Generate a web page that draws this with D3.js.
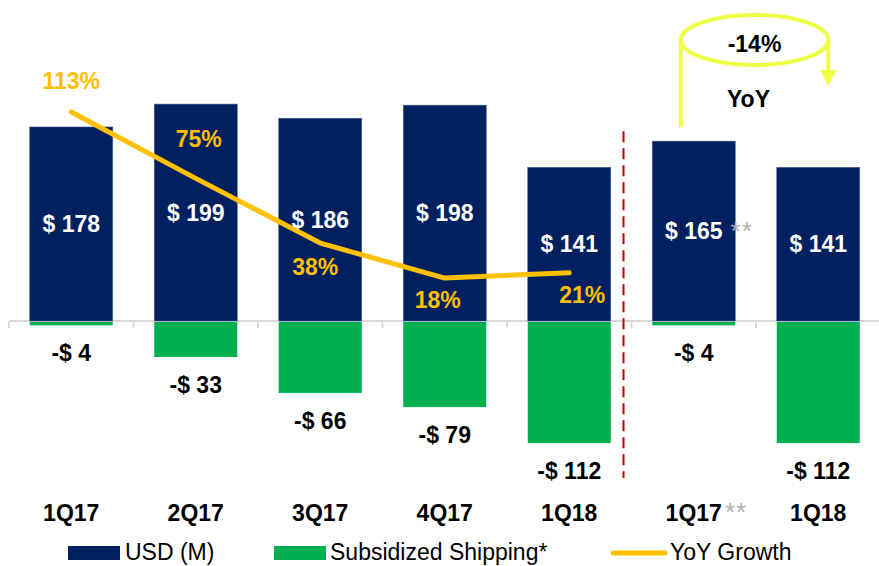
<!DOCTYPE html>
<html>
<head>
<meta charset="utf-8">
<script src="https://cdn.jsdelivr.net/npm/d3@7/dist/d3.min.js"></script>
<style>
  html, body { margin: 0; padding: 0; background: #fff; }
  svg { display: block; }
  text { font-family: "Liberation Sans", Arial, Helvetica, sans-serif; }
</style>
</head>
<body>
<svg id="chart" width="879" height="566"></svg>
<script>
// ---- data ----
const categories = ["1Q17", "2Q17", "3Q17", "4Q17", "1Q18", "1Q17", "1Q18"];
const categoryNotes = ["", "", "", "", "", "**", ""];
const usd = [178, 199, 186, 198, 141, 165, 141];
const usdNotes = ["", "", "", "", "", "**", ""];
const shipping = [-4, -33, -66, -79, -112, -4, -112];
const yoyGrowth = [113, 75, 38, 18, 21];            // first five quarters
const yoyCompare = "-14%";
const yoyCompareLabel = "YoY";
const legendLabels = ["USD (M)", "Subsidized Shipping*", "YoY Growth"];

// ---- styles ----
const NAVY = "#002060", GREEN = "#00B050", GOLD = "#FFC000", LIME = "#EEFF44", RED = "#C00000", GREY = "#B0B0B0";
const FONT = 23;

const svg = d3.select("#chart");

// ---- scales ----
const idx = d3.range(categories.length);
const x = d3.scaleBand().domain(idx).range([9, 880.5]).paddingInner(1 / 3).paddingOuter(1 / 6);
const bw = x.bandwidth();
const step = x.step();
const cx = i => x(i) + bw / 2;
const y = d3.scaleLinear().domain([-200, 250]).range([321 + 200 * 1.09, 321 - 250 * 1.09]);
const yp = d3.scaleLinear().domain([0, 100]).range([309.5, 309.5 - 174.8]);

// ---- axis ----
const axis = svg.append("g");
axis.append("line")
  .attr("x1", x(0) - step / 6).attr("x2", 879)
  .attr("y1", y(0)).attr("y2", y(0))
  .attr("stroke", "#D9D9D9").attr("stroke-width", 2);
axis.selectAll("line.tick").data(d3.range(categories.length + 1)).join("line")
  .attr("class", "tick")
  .attr("x1", i => x(0) - step / 6 + i * step).attr("x2", i => x(0) - step / 6 + i * step)
  .attr("y1", y(0)).attr("y2", y(0) + 7)
  .attr("stroke", "#D9D9D9").attr("stroke-width", 2);

// ---- bars ----
svg.append("g").selectAll("rect").data(usd).join("rect")
  .attr("x", (d, i) => x(i)).attr("width", bw)
  .attr("y", d => y(d)).attr("height", d => y(0) - y(d))
  .attr("fill", NAVY).attr("stroke", "#4a5f8c").attr("stroke-width", 0.6);

svg.append("g").selectAll("rect").data(shipping).join("rect")
  .attr("x", (d, i) => x(i)).attr("width", bw)
  .attr("y", y(0) + 1).attr("height", d => y(d) - y(0) - 1)
  .attr("fill", GREEN);

// ---- divider ----
svg.append("line")
  .attr("x1", x(4) + bw + step / 6 - 8).attr("x2", x(4) + bw + step / 6 - 8)
  .attr("y1", y(174)).attr("y2", y(-144))
  .attr("stroke", RED).attr("stroke-width", 2).attr("stroke-dasharray", "11,6");

// ---- YoY line ----
const line = d3.line().x((d, i) => cx(i)).y(d => yp(d));
svg.append("path").datum(yoyGrowth)
  .attr("d", line).attr("fill", "none")
  .attr("stroke", GOLD).attr("stroke-width", 5).attr("stroke-linecap", "round").attr("stroke-linejoin", "round");

// ---- bar value labels ----
const usdLabels = svg.append("g").selectAll("text").data(usd).join("text")
  .attr("x", (d, i) => cx(i)).attr("y", d => (y(d) + y(0)) / 2 + 8)
  .attr("text-anchor", "middle").attr("font-weight", "bold").attr("font-size", FONT)
  .attr("fill", "#fff").text(d => "$ " + d);
usdLabels.each(function (d, i) {
  if (usdNotes[i]) {
    const w = this.getComputedTextLength();
    svg.append("text").attr("x", cx(i) + w / 2 + 8).attr("y", (y(d) + y(0)) / 2 + 9)
      .attr("font-size", 26).attr("letter-spacing", 1).attr("fill", GREY).text(usdNotes[i]);
  }
});

svg.append("g").selectAll("text").data(shipping).join("text")
  .attr("x", (d, i) => cx(i)).attr("y", d => y(d) + 36)
  .attr("text-anchor", "middle").attr("font-weight", "bold").attr("font-size", FONT)
  .attr("fill", "#000").text(d => "-$ " + Math.abs(d));

// ---- YoY labels ----
const yoyPlace = [[0, -23], [3, -31], [-5, 32], [-7, 30], [13, 30]];
svg.append("g").selectAll("text").data(yoyGrowth).join("text")
  .attr("x", (d, i) => cx(i) + yoyPlace[i][0]).attr("y", d => yp(d)).attr("dy", (d, i) => yoyPlace[i][1])
  .attr("text-anchor", "middle").attr("font-weight", "bold").attr("font-size", FONT)
  .attr("fill", GOLD).text(d => d + "%");

// ---- category labels ----
const cats = svg.append("g").selectAll("text").data(categories).join("text")
  .attr("x", (d, i) => cx(i)).attr("y", 521)
  .attr("text-anchor", "middle").attr("font-weight", "bold").attr("font-size", FONT)
  .attr("fill", "#000").text(d => d);
cats.each(function (d, i) {
  if (categoryNotes[i]) {
    const w = this.getComputedTextLength();
    svg.append("text").attr("x", cx(i) + w / 2 + 3).attr("y", 521)
      .attr("font-size", 26).attr("letter-spacing", 1).attr("fill", GREY).text(categoryNotes[i]);
  }
});

// ---- YoY comparison annotation ----
const ann = svg.append("g");
const aL = cx(5) - 13, aR = cx(6) + 10, aY = 40;
ann.append("ellipse").attr("cx", (aL + aR) / 2).attr("cy", aY).attr("rx", (aR - aL) / 2).attr("ry", 25)
  .attr("fill", "none").attr("stroke", LIME).attr("stroke-width", 4);
ann.append("line").attr("x1", aL).attr("x2", aL).attr("y1", aY).attr("y2", y(usd[5]) - 14)
  .attr("stroke", LIME).attr("stroke-width", 4);
ann.append("line").attr("x1", aR).attr("x2", aR).attr("y1", aY).attr("y2", aY + 32)
  .attr("stroke", LIME).attr("stroke-width", 4);
ann.append("path")
  .attr("d", `M${aR - 8},${aY + 30} L${aR + 8},${aY + 30} L${aR},${aY + 46} Z`)
  .attr("fill", LIME);
ann.append("text").attr("x", (aL + aR) / 2).attr("y", 52)
  .attr("text-anchor", "middle").attr("font-weight", "bold").attr("font-size", FONT).attr("fill", "#000")
  .text(yoyCompare);
ann.append("text").attr("x", (aL + aR) / 2 - 6).attr("y", 107)
  .attr("text-anchor", "middle").attr("font-weight", "bold").attr("font-size", FONT).attr("fill", "#000")
  .text(yoyCompareLabel);

// ---- legend ----
const lg = svg.append("g");
const lgFont = 23;
const lgBase = 560;
lg.append("rect").attr("x", 68).attr("y", 546).attr("width", 52).attr("height", 14).attr("fill", NAVY);
lg.append("text").attr("x", 125).attr("y", lgBase).attr("font-size", lgFont).attr("fill", "#000").text(legendLabels[0]);
lg.append("rect").attr("x", 274).attr("y", 546).attr("width", 52).attr("height", 14).attr("fill", GREEN);
lg.append("text").attr("x", 330).attr("y", lgBase).attr("font-size", lgFont).attr("fill", "#000").text(legendLabels[1]);
lg.append("line").attr("x1", 613).attr("x2", 665).attr("y1", 553).attr("y2", 553)
  .attr("stroke", GOLD).attr("stroke-width", 5).attr("stroke-linecap", "round");
lg.append("text").attr("x", 670).attr("y", lgBase).attr("font-size", lgFont).attr("fill", "#000").text(legendLabels[2]);
</script>
</body>
</html>
